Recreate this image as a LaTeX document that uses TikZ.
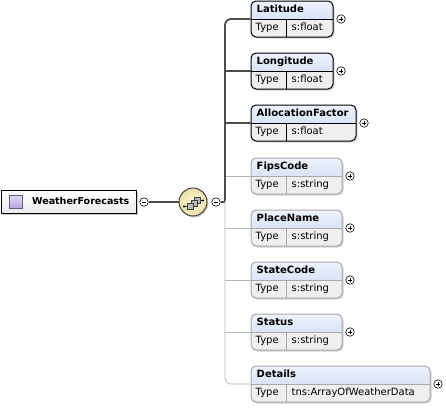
\documentclass[tikz,border=0pt]{standalone}
\usepackage{fontspec}
\setmainfont{DejaVu Sans}
\usetikzlibrary{shadows}

\definecolor{hdrtop}{HTML}{EEF3FC}
\definecolor{hdrbot}{HTML}{C3D4F0}
\definecolor{typfill}{HTML}{EFEFEF}
\definecolor{optgray}{HTML}{A8A8A8}
\definecolor{seqin}{HTML}{FBF7DE}
\definecolor{seqout}{HTML}{EDE0A4}
\definecolor{icontop}{HTML}{E2DAF5}
\definecolor{iconbot}{HTML}{B6A6DF}

\begin{document}
\begin{tikzpicture}[x=1pt, y=-1pt]
	\tikzset{
		elem/.style={rectangle, rounded corners=5pt, draw=#1, line width=1pt, minimum height=36pt, fill=typfill,
			drop shadow={shadow xshift=1.5pt, shadow yshift=-1.5pt, opacity=.35},
			path picture={
				\fill[top color=hdrtop, bottom color=hdrbot] (path picture bounding box.north west) rectangle ([yshift=-18pt]path picture bounding box.north east);
				\draw[#1, line width=.6pt] ([yshift=-18pt]path picture bounding box.north west) -- ([yshift=-18pt]path picture bounding box.north east);
				\draw[#1, line width=.6pt] ([xshift=35pt,yshift=-18pt]path picture bounding box.north west) -- ([xshift=35pt]path picture bounding box.south west);
			}},
		req/.style={elem=black},
		opt/.style={elem=optgray},
		elemname/.style={font=\bfseries\fontsize{10}{12}\selectfont, anchor=west, inner sep=0pt, text height=7.5pt, text depth=2pt},
		typelbl/.style={font=\fontsize{10}{12}\selectfont, anchor=west, inner sep=0pt, text height=7.5pt, text depth=2pt},
		plus/.style={circle, draw, line width=.6pt, minimum size=8.5pt, inner sep=0pt, fill=white,
			path picture={
				\draw[line width=.7pt] ([xshift=-2.4pt]path picture bounding box.center) -- ([xshift=2.4pt]path picture bounding box.center);
				\draw[line width=.7pt] ([yshift=-2.4pt]path picture bounding box.center) -- ([yshift=2.4pt]path picture bounding box.center);
			}},
		minus/.style={circle, draw, line width=.6pt, minimum size=8.5pt, inner sep=0pt, fill=white,
			path picture={
				\draw[line width=.7pt] ([xshift=-2.4pt]path picture bounding box.center) -- ([xshift=2.4pt]path picture bounding box.center);
			}},
		reqline/.style={draw=black!70, line width=1.8pt},
		optline/.style={draw=optgray!85, line width=.7pt},
	}
	\useasboundingbox (0,0) rectangle (446,408);

	% root element
	\node[rectangle, draw, line width=1pt, minimum width=135pt, minimum height=23pt, top color=white, bottom color=black!8,
		drop shadow={shadow xshift=1.5pt, shadow yshift=-1.5pt, opacity=.4}] (WeatherForecasts) at (68.5,201.5) {};
	\node[rectangle, draw=black!45!iconbot, line width=.6pt, minimum size=13pt, inner sep=0pt, top color=icontop, bottom color=iconbot] (RootIcon) at (15.5,201.5) {};
	\node[elemname, font=\bfseries\fontsize{9.5}{12}\selectfont] (RootName) at (32,201.5) {WeatherForecasts};
	\node[minus] (RootMinus) at (144,202) {};

	% sequence compositor
	\node[circle, draw=black!75, line width=1pt, minimum size=28pt, inner color=seqin, outer color=seqout,
		drop shadow={shadow xshift=1.5pt, shadow yshift=-1.5pt, opacity=.35}] (Sequence) at (193,202) {};
	\node[minus] (SeqMinus) at (216,202) {};
	\coordinate (Fork) at (225,202);

	\draw[black!80, line width=.6pt] ([shift={(-9,4.5)}]Sequence.center) -- ([shift={(-5.5,4.5)}]Sequence.center);
	\draw[black!80, line width=.6pt] ([shift={(7.5,-1.5)}]Sequence.center) -- ([shift={(10,-1.5)}]Sequence.center);
	\fill[black] ([shift={(-9,4.5)}]Sequence.center) circle (1.1pt);
	\fill[black] ([shift={(10,-1.5)}]Sequence.center) circle (1.1pt);
	\draw[fill=gray!55, draw=black!75, line width=.5pt] ([shift={(1.5,-4.5)}]Sequence.center) rectangle ++(6,6);
	\draw[fill=gray!55, draw=black!75, line width=.5pt] ([shift={(-2,-1.5)}]Sequence.center) rectangle ++(6,6);
	\draw[fill=gray!55, draw=black!75, line width=.5pt] ([shift={(-5.5,1.5)}]Sequence.center) rectangle ++(6,6);

	% child elements
	\node[req, minimum width=82pt] (Latitude) at (292,19) {};
	\node[elemname] (LatitudeName) at ([xshift=6pt,yshift=-9pt]Latitude.north west) {Latitude};
	\node[typelbl] (LatitudeType) at ([xshift=5pt,yshift=-27pt]Latitude.north west) {Type};
	\node[typelbl] (LatitudeVal) at ([xshift=41pt,yshift=-27pt]Latitude.north west) {s:float};
	\node[plus] (LatitudePlus) at ([xshift=7.5pt]Latitude.east) {};

	\node[req, minimum width=82pt] (Longitude) at (292,71) {};
	\node[elemname] (LongitudeName) at ([xshift=6pt,yshift=-9pt]Longitude.north west) {Longitude};
	\node[typelbl] (LongitudeType) at ([xshift=5pt,yshift=-27pt]Longitude.north west) {Type};
	\node[typelbl] (LongitudeVal) at ([xshift=41pt,yshift=-27pt]Longitude.north west) {s:float};
	\node[plus] (LongitudePlus) at ([xshift=7.5pt]Longitude.east) {};

	\node[req, minimum width=105pt] (AllocationFactor) at (303.5,123) {};
	\node[elemname] (AllocationFactorName) at ([xshift=6pt,yshift=-9pt]AllocationFactor.north west) {AllocationFactor};
	\node[typelbl] (AllocationFactorType) at ([xshift=5pt,yshift=-27pt]AllocationFactor.north west) {Type};
	\node[typelbl] (AllocationFactorVal) at ([xshift=41pt,yshift=-27pt]AllocationFactor.north west) {s:float};
	\node[plus] (AllocationFactorPlus) at ([xshift=7.5pt]AllocationFactor.east) {};

	\node[opt, minimum width=91pt] (FipsCode) at (296.5,176) {};
	\node[elemname] (FipsCodeName) at ([xshift=6pt,yshift=-9pt]FipsCode.north west) {FipsCode};
	\node[typelbl] (FipsCodeType) at ([xshift=5pt,yshift=-27pt]FipsCode.north west) {Type};
	\node[typelbl] (FipsCodeVal) at ([xshift=41pt,yshift=-27pt]FipsCode.north west) {s:string};
	\node[plus] (FipsCodePlus) at ([xshift=7.5pt]FipsCode.east) {};

	\node[opt, minimum width=91pt] (PlaceName) at (296.5,228) {};
	\node[elemname] (PlaceNameName) at ([xshift=6pt,yshift=-9pt]PlaceName.north west) {PlaceName};
	\node[typelbl] (PlaceNameType) at ([xshift=5pt,yshift=-27pt]PlaceName.north west) {Type};
	\node[typelbl] (PlaceNameVal) at ([xshift=41pt,yshift=-27pt]PlaceName.north west) {s:string};
	\node[plus] (PlaceNamePlus) at ([xshift=7.5pt]PlaceName.east) {};

	\node[opt, minimum width=91pt] (StateCode) at (296.5,280) {};
	\node[elemname] (StateCodeName) at ([xshift=6pt,yshift=-9pt]StateCode.north west) {StateCode};
	\node[typelbl] (StateCodeType) at ([xshift=5pt,yshift=-27pt]StateCode.north west) {Type};
	\node[typelbl] (StateCodeVal) at ([xshift=41pt,yshift=-27pt]StateCode.north west) {s:string};
	\node[plus] (StateCodePlus) at ([xshift=7.5pt]StateCode.east) {};

	\node[opt, minimum width=91pt] (Status) at (296.5,332) {};
	\node[elemname] (StatusName) at ([xshift=6pt,yshift=-9pt]Status.north west) {Status};
	\node[typelbl] (StatusType) at ([xshift=5pt,yshift=-27pt]Status.north west) {Type};
	\node[typelbl] (StatusVal) at ([xshift=41pt,yshift=-27pt]Status.north west) {s:string};
	\node[plus] (StatusPlus) at ([xshift=7.5pt]Status.east) {};

	\node[opt, minimum width=179pt] (Details) at (340.5,384) {};
	\node[elemname] (DetailsName) at ([xshift=6pt,yshift=-9pt]Details.north west) {Details};
	\node[typelbl] (DetailsType) at ([xshift=5pt,yshift=-27pt]Details.north west) {Type};
	\node[typelbl] (DetailsVal) at ([xshift=41pt,yshift=-27pt]Details.north west) {tns:ArrayOfWeatherData};
	\node[plus] (DetailsPlus) at ([xshift=7.5pt]Details.east) {};

	% connectors
	\draw[reqline] (RootMinus) -- (Sequence);
	\draw[reqline] (SeqMinus) -- (Fork);
	\draw[optline, rounded corners=6pt] (Fork) |- (Details);
	\draw[optline] (Fork |- FipsCode) -- (FipsCode);
	\draw[optline] (Fork |- PlaceName) -- (PlaceName);
	\draw[optline] (Fork |- StateCode) -- (StateCode);
	\draw[optline] (Fork |- Status) -- (Status);
	\draw[reqline, rounded corners=6pt] ([yshift=.9pt]Fork) |- (Latitude);
	\draw[reqline] (Fork |- Longitude) -- (Longitude);
	\draw[reqline] (Fork |- AllocationFactor) -- (AllocationFactor);
\end{tikzpicture}
\end{document}
